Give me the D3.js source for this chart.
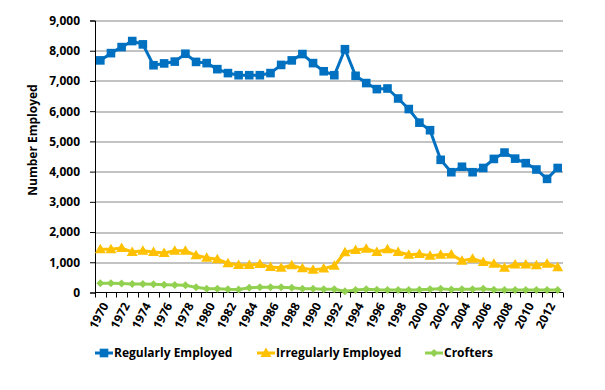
<!DOCTYPE html>
<html>
<head>
<meta charset="utf-8">
<script src="https://cdn.jsdelivr.net/npm/d3@7"></script>
<style>
  body { margin: 0; background: #fff; }
  text { font-family: "Open Sans", Lato, sans-serif; font-weight: bold; }
</style>
</head>
<body>
<div id="chart"></div>
<script>
// years 1970..2013
const years = d3.range(1970, 2014);

const regularlyEmployed = [
  7680, 7920, 8120, 8320, 8210, 7520, 7580, 7640, 7900, 7630,
  7590, 7390, 7260, 7190, 7190, 7190, 7260, 7530, 7680, 7890,
  7590, 7320, 7190, 8050, 7170, 6930, 6730, 6750, 6420, 6070,
  5620, 5370, 4390, 3980, 4160, 3980, 4120, 4420, 4630, 4430,
  4280, 4070, 3760, 4120
];
const irregularlyEmployed = [
  1430, 1430, 1470, 1340, 1380, 1340, 1310, 1380, 1380, 1230,
  1150, 1100, 965, 910, 910, 940, 840, 820, 900, 800,
  755, 790, 885, 1330, 1410, 1450, 1340, 1430, 1340, 1250,
  1275, 1220, 1250, 1260, 1050, 1120, 1010, 955, 820, 930,
  930, 900, 955, 835
];
const crofters = [
  305, 305, 295, 280, 280, 270, 260, 250, 240, 170,
  125, 125, 105, 100, 160, 170, 170, 170, 160, 125,
  125, 105, 105, 40, 80, 110, 90, 80, 80, 80,
  90, 110, 120, 100, 110, 110, 120, 90, 80, 80,
  80, 80, 80, 80
];
const yTicks = [0, 1000, 2000, 3000, 4000, 5000, 6000, 7000, 8000, 9000];

const series = [
  { name: "Regularly Employed", values: regularlyEmployed, color: "#0070C0", marker: "square" },
  { name: "Irregularly Employed", values: irregularlyEmployed, color: "#FFC000", marker: "triangle" },
  { name: "Crofters", values: crofters, color: "#92D050", marker: "diamond" }
];

const svgWidth = 605, svgHeight = 390;
const margin = { top: 20.5, right: 42, bottom: 97.5, left: 95 };
const width = svgWidth - margin.left - margin.right;
const height = svgHeight - margin.top - margin.bottom;

const svg = d3.select("#chart").append("svg")
  .attr("width", svgWidth)
  .attr("height", svgHeight);

const chart = svg.append("g")
  .attr("transform", "translate(" + margin.left + "," + margin.top + ")");

const xScale = d3.scaleBand()
  .domain(years)
  .range([0, width]);

const yScale = d3.scaleLinear()
  .domain([0, 9000])
  .range([height, 0]);

const xc = d => xScale(d) + xScale.bandwidth() / 2;

// gridlines
chart.append("g")
  .selectAll("line")
  .data(yTicks.filter(d => d > 0))
  .enter()
  .append("line")
  .attr("x1", 0)
  .attr("x2", width)
  .attr("y1", d => Math.round(yScale(d)) + 0.5)
  .attr("y2", d => Math.round(yScale(d)) + 0.5)
  .attr("stroke", "#878787")
  .attr("stroke-width", 1);

// y axis
const yAxis = chart.append("g")
  .call(d3.axisLeft(yScale).tickValues(yTicks).tickSize(5).tickPadding(10).tickFormat(d3.format(",")));
yAxis.select(".domain").attr("stroke", "#000");
yAxis.selectAll("text").attr("font-size", 12).attr("fill", "#000");

// x axis, ticks between categories
const xAxis = chart.append("g")
  .attr("transform", "translate(0," + height + ")");
xAxis.append("line")
  .attr("x1", 0).attr("x2", width)
  .attr("y1", 0).attr("y2", 0)
  .attr("stroke", "#000");
xAxis.selectAll(".tk")
  .data(years.concat([2014]))
  .enter()
  .append("line")
  .attr("class", "tk")
  .attr("x1", (d, i) => Math.round(i * xScale.step()) + 0.5)
  .attr("x2", (d, i) => Math.round(i * xScale.step()) + 0.5)
  .attr("y1", 0)
  .attr("y2", 5)
  .attr("stroke", "#000");
xAxis.selectAll(".lbl")
  .data(years.filter(d => d % 2 === 0))
  .enter()
  .append("text")
  .attr("class", "lbl")
  .attr("transform", d => "translate(" + (xc(d) + 5) + ",11) rotate(-62)")
  .attr("text-anchor", "end")
  .attr("dy", "0.35em")
  .attr("font-size", 12)
  .text(d => d);

// y title
svg.append("text")
  .attr("transform", "translate(37,140) rotate(-90)")
  .attr("text-anchor", "middle")
  .attr("font-size", 12)
  .text("Number Employed");

function drawMarker(sel, type, color) {
  if (type === "square") {
    sel.append("rect")
      .attr("x", -4.3).attr("y", -4.3)
      .attr("width", 8.6).attr("height", 8.6)
      .attr("fill", color);
  } else if (type === "triangle") {
    sel.append("path")
      .attr("d", "M0,-5.5L5.5,4L-5.5,4Z")
      .attr("fill", color);
  } else {
    sel.append("path")
      .attr("d", "M0,-4L4,0L0,4L-4,0Z")
      .attr("fill", color);
  }
}

const line = d3.line()
  .x((d, i) => xc(years[i]))
  .y(d => yScale(d));

series.slice().reverse().forEach(s => {
  chart.append("path")
    .datum(s.values)
    .attr("fill", "none")
    .attr("stroke", s.color)
    .attr("stroke-width", 3)
    .attr("stroke-linejoin", "round")
    .attr("d", line);

  const pts = chart.selectAll(null)
    .data(s.values)
    .enter()
    .append("g")
    .attr("transform", (d, i) => "translate(" + xc(years[i]) + "," + yScale(d) + ")");
  drawMarker(pts, s.marker, s.color);
});

// legend
const legendX = [95, 257, 425];
series.forEach((s, i) => {
  const g = svg.append("g")
    .attr("transform", "translate(" + legendX[i] + ",353)");
  g.append("line")
    .attr("x1", 0).attr("x2", 18)
    .attr("stroke", s.color)
    .attr("stroke-width", 3);
  const m = g.append("g").attr("transform", "translate(9,0)");
  drawMarker(m, s.marker, s.color);
  g.append("text")
    .attr("x", 19)
    .attr("dy", "0.35em")
    .attr("font-size", 12)
    .text(s.name);
});
</script>
</body>
</html>
